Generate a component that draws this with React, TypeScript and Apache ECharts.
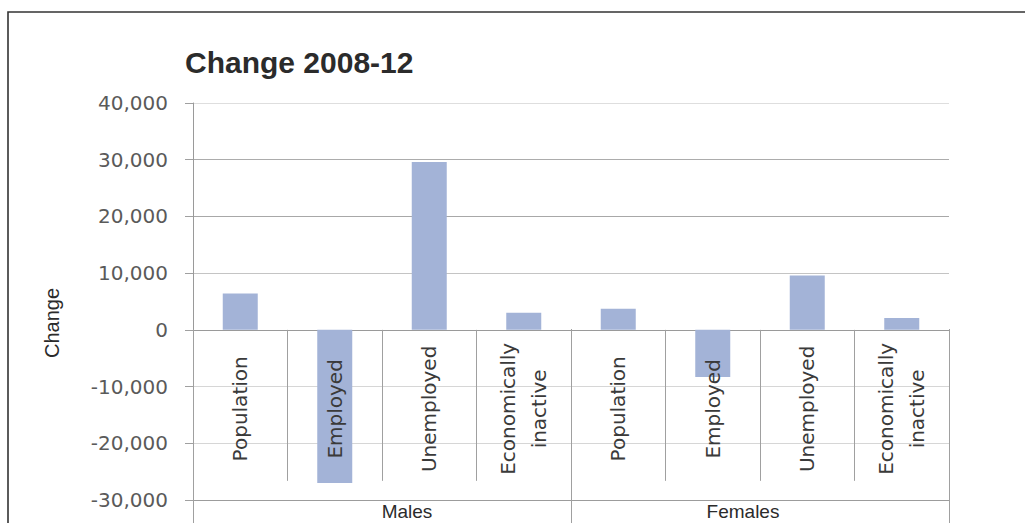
import React, { useEffect, useRef } from "react";
import * as echarts from "echarts";

const groups = ["Males", "Females"];
const subCategories = ["Population", "Employed", "Unemployed", "Economically\ninactive"];
const malesChange = [6400, -27000, 29600, 3000];
const femalesChange = [3700, -8300, 9600, 2100];
const yTicks = { min: -30000, max: 40000, interval: 10000 };
const titleText = "Change 2008-12";
const yAxisTitle = "Change";

export default function App() {
  const ref = useRef<HTMLDivElement>(null);

  useEffect(() => {
    if (!ref.current) return;
    const chart = echarts.init(ref.current, undefined, { renderer: "svg" });

    const axisData: string[] = [];
    groups.forEach((g) => subCategories.forEach((c) => axisData.push(g + "|" + c)));
    const values = [...malesChange, ...femalesChange];

    chart.setOption({
      animation: false,
      backgroundColor: "#ffffff",
      title: {
        text: titleText,
        left: 180,
        top: 42,
        textStyle: {
          fontFamily: "Liberation Sans",
          fontSize: 30,
          fontWeight: "bold",
          color: "#2b2b2b",
        },
      },
      grid: {
        left: 193,
        right: 76,
        top: 103,
        bottom: 23,
        containLabel: false,
        outerBoundsMode: "none",
      },
      xAxis: [
        {
          type: "category",
          data: axisData,
          position: "bottom",
          axisLine: { show: true, onZero: true, lineStyle: { color: "#9a9a9a", width: 1 } },
          axisTick: { show: true, length: 151, interval: 0, alignWithLabel: false, lineStyle: { color: "#a0a0a0" } },
          axisLabel: { show: false },
          splitLine: { show: false },
        },
        {
          type: "category",
          data: groups,
          position: "bottom",
          axisLine: { show: false, onZero: false },
          axisTick: { show: true, inside: true, length: 171, interval: 0, lineStyle: { color: "#a0a0a0" } },
          axisLabel: {
            interval: 0,
            margin: 2,
            fontFamily: "Liberation Sans",
            fontSize: 19,
            color: "#2b2b2b",
            formatter: (v: string) => (v === "Males" ? "{m|" + v + "}" : "{f|" + v + "}"),
            rich: {
              m: { fontFamily: "Liberation Sans", fontSize: 19, lineHeight: 19, color: "#2b2b2b", padding: [0, 0, 0, 50] },
              f: { fontFamily: "Liberation Sans", fontSize: 19, lineHeight: 19, color: "#2b2b2b", padding: [0, 34, 0, 0] },
            },
          },
          splitLine: { show: false },
        },
        {
          type: "category",
          data: groups,
          position: "bottom",
          axisLine: { show: false, onZero: false },
          axisTick: { show: true, inside: false, length: 26, interval: 0, lineStyle: { color: "#a0a0a0" } },
          axisLabel: { show: false },
          splitLine: { show: false },
        },
      ],
      yAxis: {
        type: "value",
        min: yTicks.min,
        max: yTicks.max,
        interval: yTicks.interval,
        axisLine: { show: true, lineStyle: { color: "#9a9a9a" } },
        axisTick: { show: true, length: 8, lineStyle: { color: "#a0a0a0" } },
        axisLabel: {
          margin: 25,
          fontFamily: "DejaVu Sans",
          fontSize: 20,
          color: "#5a5a5a",
          formatter: (v: number) => v.toLocaleString("en-US"),
        },
        splitLine: {
          show: true,
          lineStyle: {
            color: ["#9c9c9c", "#d6d6d6", "#d6d6d6", "#a0a0a0", "#c4c4c4", "#a8a8a8", "#acacac", "#dedede"],
            width: 1,
          },
        },
      },
      series: [
        {
          type: "bar",
          data: values,
          xAxisIndex: 0,
          yAxisIndex: 0,
          barWidth: 35,
          itemStyle: { color: "#a3b3d7" },
          z: 2,
        },
      ],
    });

    const zeroY = chart.convertToPixel({ yAxisIndex: 0 }, 0) as number;
    const categoryLabels = axisData.map((d, i) => ({
      type: "text",
      x: chart.convertToPixel({ xAxisIndex: 0 }, i) as number,
      y: zeroY + 79,
      rotation: Math.PI / 2,
      z: 10,
      silent: true,
      style: {
        text: d.split("|")[1],
        fontFamily: "DejaVu Sans",
        fontSize: 20,
        lineHeight: 31,
        fill: "#3a3a3a",
        align: "center",
        verticalAlign: "middle",
      },
    }));

    chart.setOption({
      graphic: [
        {
          type: "polyline",
          shape: { points: [[8, 523], [8, 12], [1025, 12]] },
          style: { stroke: "#333333", lineWidth: 1.6, fill: null },
          silent: true,
        },
        {
          type: "text",
          x: 52,
          y: 323,
          rotation: Math.PI / 2,
          silent: true,
          style: {
            text: yAxisTitle,
            fontFamily: "Liberation Sans",
            fontSize: 20,
            fill: "#2b2b2b",
            align: "center",
            verticalAlign: "middle",
          },
        },
        ...categoryLabels,
      ],
    });

    return () => chart.dispose();
  }, []);

  return (
    <div
      ref={ref}
      style={{ position: "absolute", left: 0, top: 0, width: 1025, height: 523 }}
    />
  );
}
